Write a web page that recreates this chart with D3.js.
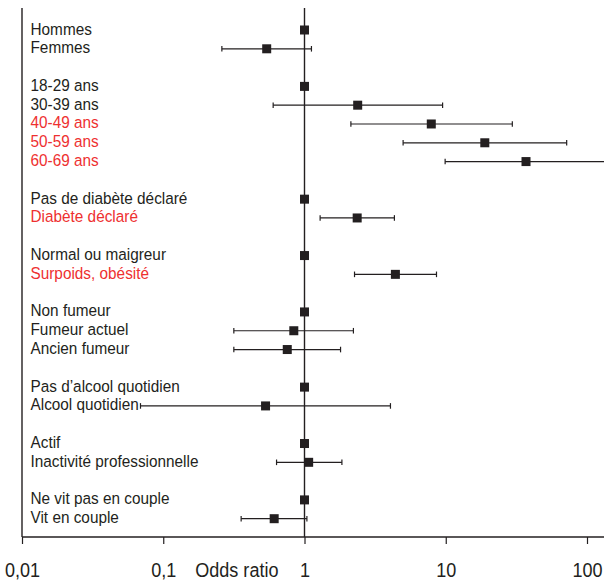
<!DOCTYPE html>
<html>
<head>
<meta charset="utf-8">
<script src="https://cdn.jsdelivr.net/npm/d3@7"></script>
<style>
  body { margin: 0; background: #fff; }
  svg text { font-family: "Liberation Sans", Arial, sans-serif; }
</style>
</head>
<body>
<div id="chart"></div>
<script>
// null entries are blank rows between groups
const labels = [
    "Hommes", "Femmes", null,
    "18-29 ans", "30-39 ans", "40-49 ans", "50-59 ans", "60-69 ans", null,
    "Pas de diabète déclaré", "Diabète déclaré", null,
    "Normal ou maigreur", "Surpoids, obésité", null,
    "Non fumeur", "Fumeur actuel", "Ancien fumeur", null,
    "Pas d\u2019alcool quotidien", "Alcool quotidien", null,
    "Actif", "Inactivité professionnelle", null,
    "Ne vit pas en couple", "Vit en couple"
];
const oddsRatio = [1, 0.54, null, 1, 2.38, 7.9, 18.9, 37, null, 1, 2.36, null, 1, 4.4, null, 1, 0.84, 0.755, null, 1, 0.53, null, 1, 1.07, null, 1, 0.61];
const ciLow = [null, 0.26, null, null, 0.60, 2.13, 4.99, 9.9, null, null, 1.29, null, null, 2.26, null, null, 0.316, 0.316, null, null, 0.069, null, null, 0.634, null, null, 0.356];
const ciHigh = [null, 1.12, null, null, 9.5, 29.6, 71.8, 140, null, null, 4.33, null, null, 8.6, null, null, 2.22, 1.80, null, null, 4.06, null, null, 1.84, null, null, 1.04];
const significant = ["40-49 ans", "50-59 ans", "60-69 ans", "Diabète déclaré", "Surpoids, obésité"];
const tickValues = [0.01, 0.1, 1, 10, 100];
const tickLabels = ["0,01", "0,1", "1", "10", "100"];

const width = 604, height = 584;
const ink = '#231f20', red = '#ee3030';
const labelNarrow = 0.93, axisNarrow = 0.86; // condensed look

const svg = d3.select('#chart').append('svg')
    .attr('width', width)
    .attr('height', height);

const x = d3.scaleLog().domain([0.01, 100]).range([22, 587]);
const y = d3.scalePoint().domain(d3.range(labels.length)).range([30, 518.7]);
const axisY = 537, topY = 8;

const rows = labels.map((label, i) => ({
    label, i, or: oddsRatio[i], lo: ciLow[i], hi: ciHigh[i]
})).filter(d => d.label !== null);

// frame: left line, reference line at 1, bottom axis
svg.append('line')
    .attr('x1', x(0.01)).attr('x2', x(0.01))
    .attr('y1', topY).attr('y2', axisY)
    .attr('stroke', ink).attr('stroke-width', 1.4);
svg.append('line')
    .attr('x1', x(1)).attr('x2', x(1))
    .attr('y1', topY).attr('y2', axisY)
    .attr('stroke', ink).attr('stroke-width', 1.4);
svg.append('line')
    .attr('x1', x(0.01)).attr('x2', width)
    .attr('y1', axisY).attr('y2', axisY)
    .attr('stroke', ink).attr('stroke-width', 1.4);

const axis = svg.append('g')
    .attr('transform', `translate(0,${axisY})`)
    .call(d3.axisBottom(x)
        .tickValues(tickValues)
        .tickFormat((d, i) => tickLabels[i])
        .tickSize(7)
        .tickPadding(18));
axis.select('.domain').remove();
axis.selectAll('.tick line').attr('stroke', ink).attr('stroke-width', 1.2);
axis.selectAll('.tick text')
    .attr('fill', ink)
    .attr('font-size', 21)
    .attr('font-family', '"Liberation Sans", Arial, sans-serif')
    .attr('y', 40)
    .attr('dy', null)
    .attr('transform', `scale(${axisNarrow},1)`);

svg.append('text')
    .attr('transform', `translate(${x(1) - 26},577) scale(${axisNarrow},1)`)
    .attr('text-anchor', 'end')
    .attr('font-size', 21)
    .attr('fill', ink)
    .text('Odds ratio');

// row labels
svg.selectAll('.row-label')
    .data(rows)
    .enter()
    .append('text')
    .attr('class', 'row-label')
    .attr('transform', d => `translate(30.5,${y(d.i) + 4.5}) scale(${labelNarrow},1)`)
    .attr('font-size', 16.5)
    .attr('fill', d => significant.includes(d.label) ? red : ink)
    .text(d => d.label);

// confidence intervals
const ci = rows.filter(d => d.lo != null);
svg.selectAll('.ci')
    .data(ci)
    .enter()
    .append('line')
    .attr('class', 'ci')
    .attr('x1', d => x(d.lo))
    .attr('x2', d => x(d.hi))
    .attr('y1', d => y(d.i)).attr('y2', d => y(d.i))
    .attr('stroke', ink).attr('stroke-width', 1.2);

const caps = [];
ci.forEach(d => { caps.push({ i: d.i, v: d.lo }); caps.push({ i: d.i, v: d.hi }); });
svg.selectAll('.cap')
    .data(caps)
    .enter()
    .append('line')
    .attr('class', 'cap')
    .attr('x1', d => x(d.v)).attr('x2', d => x(d.v))
    .attr('y1', d => y(d.i) - 2.8).attr('y2', d => y(d.i) + 2.8)
    .attr('stroke', ink).attr('stroke-width', 1.2);

// point estimates
const s = 9;
svg.selectAll('.marker')
    .data(rows)
    .enter()
    .append('rect')
    .attr('class', 'marker')
    .attr('x', d => x(d.or) - s / 2)
    .attr('y', d => y(d.i) - s / 2)
    .attr('width', s)
    .attr('height', s)
    .attr('fill', ink);
</script>
</body>
</html>
